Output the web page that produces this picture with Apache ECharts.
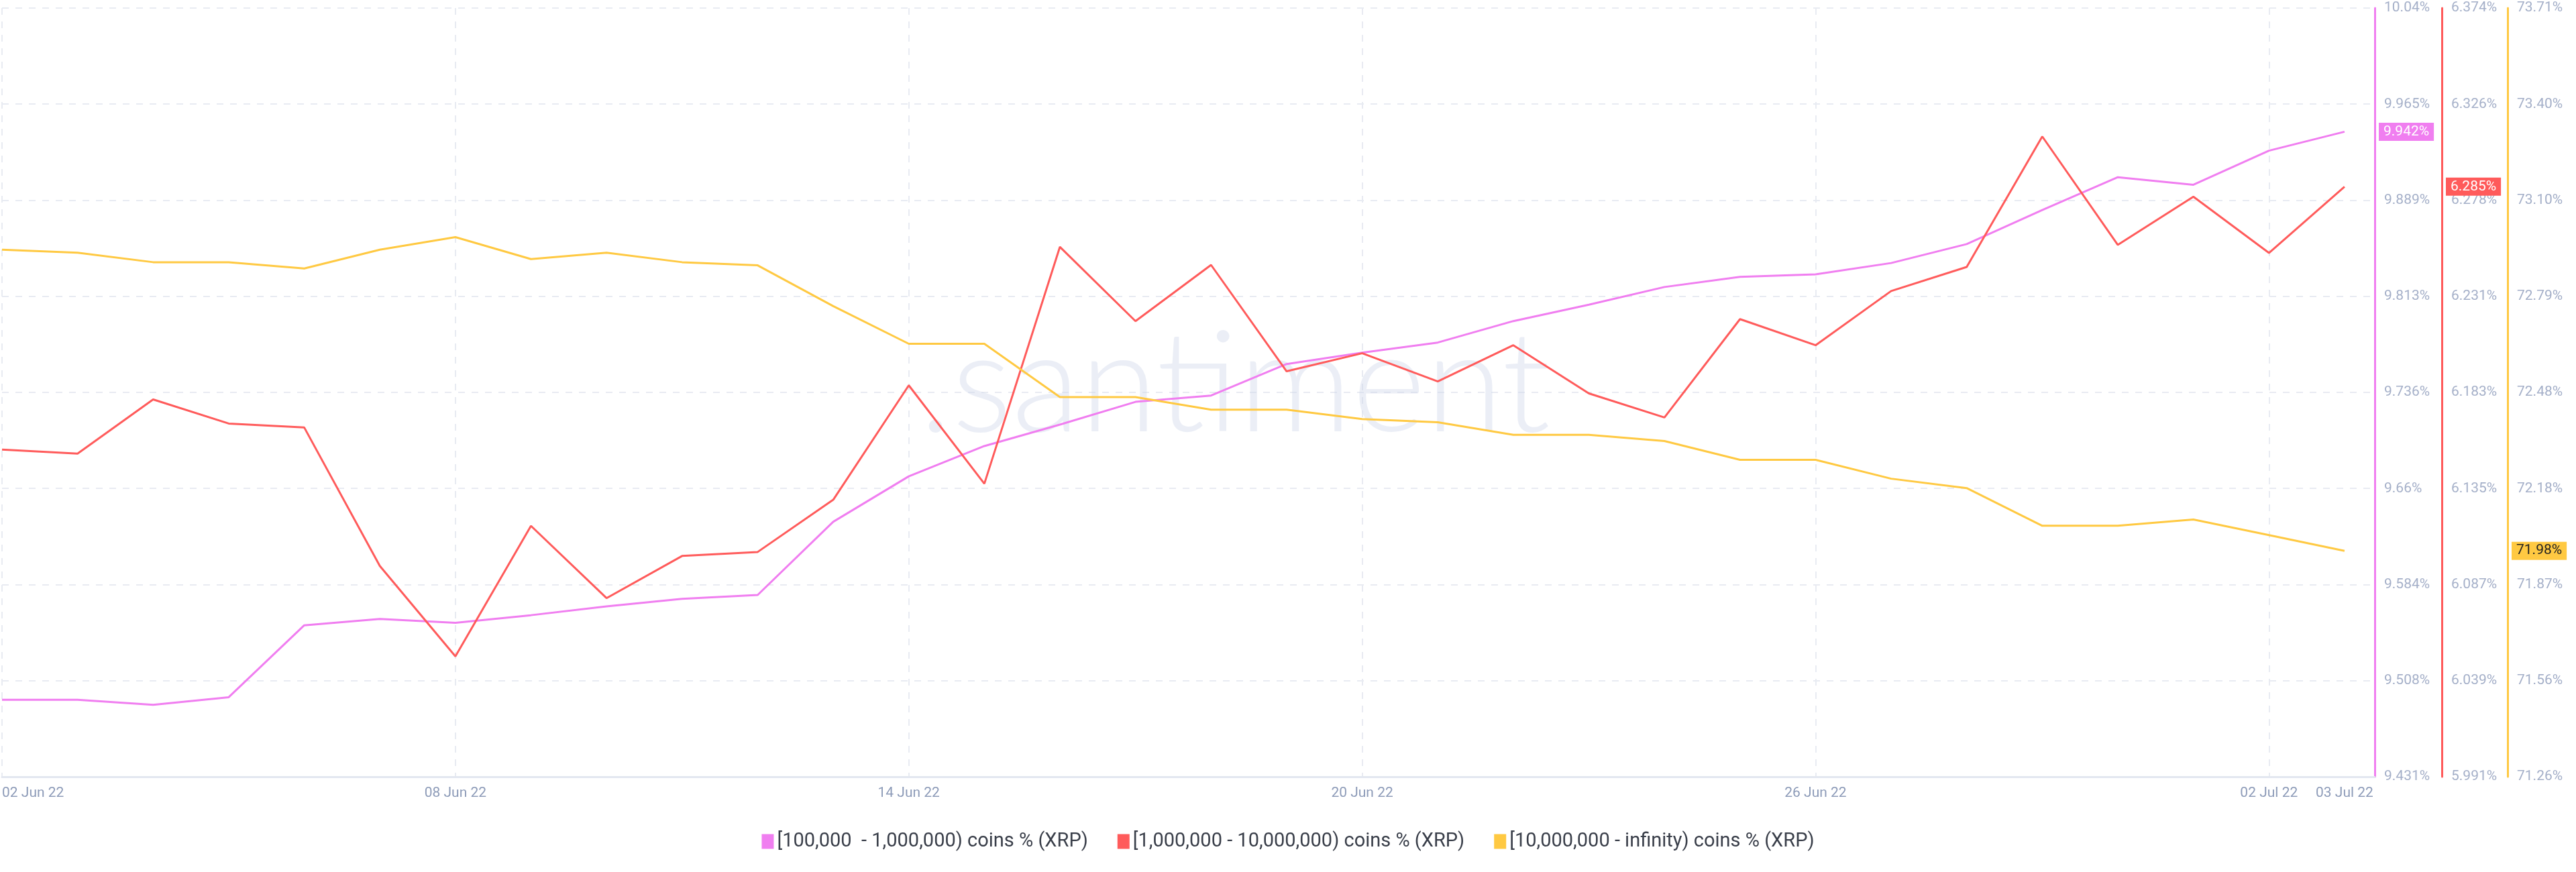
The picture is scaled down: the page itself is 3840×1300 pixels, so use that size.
<!DOCTYPE html>
<html>
<head>
<meta charset="utf-8">
<script src="https://cdn.jsdelivr.net/npm/echarts@6/dist/echarts.min.js"></script>
<style>html,body{margin:0;padding:0;background:#fff}#chart{width:3840px;height:1300px}</style>
</head>
<body>
<div id="chart"></div>
<script>
// day index 0 = 02 Jun 22
const dayLabels = ['02 Jun 22', '08 Jun 22', '14 Jun 22', '20 Jun 22', '26 Jun 22', '02 Jul 22', '03 Jul 22']
const dayLabelIdx = [0, 6, 12, 18, 24, 30, 31]

const pinkValues = [9.492, 9.492, 9.488, 9.494, 9.551, 9.556, 9.553, 9.559, 9.566, 9.572, 9.575, 9.633, 9.669, 9.693, 9.710, 9.728,
  9.733, 9.758, 9.767, 9.775, 9.792, 9.805, 9.819, 9.827, 9.829, 9.838, 9.853, 9.880, 9.906, 9.900, 9.927, 9.942]
const redValues = [6.154, 6.152, 6.179, 6.167, 6.165, 6.096, 6.051, 6.116, 6.080, 6.101, 6.103, 6.129, 6.186, 6.137, 6.255, 6.218,
  6.246, 6.193, 6.202, 6.188, 6.206, 6.182, 6.170, 6.219, 6.206, 6.233, 6.245, 6.310, 6.256, 6.280, 6.252, 6.285]
const yellowValues = [72.94, 72.93, 72.90, 72.90, 72.88, 72.94, 72.98, 72.91, 72.93, 72.90, 72.89, 72.76, 72.64, 72.64, 72.47, 72.47,
  72.43, 72.43, 72.40, 72.39, 72.35, 72.35, 72.33, 72.27, 72.27, 72.21, 72.18, 72.06, 72.06, 72.08, 72.03, 71.98]

const pinkTicks = ['9.431%', '9.508%', '9.584%', '9.66%', '9.736%', '9.813%', '9.889%', '9.965%', '10.04%']
const redTicks = ['5.991%', '6.039%', '6.087%', '6.135%', '6.183%', '6.231%', '6.278%', '6.326%', '6.374%']
const yellowTicks = ['71.26%', '71.56%', '71.87%', '72.18%', '72.48%', '72.79%', '73.10%', '73.40%', '73.71%']
const lastLabels = ['9.942%', '6.285%', '71.98%']

const names = ['[100,000  - 1,000,000) coins % (XRP)', '[1,000,000 - 10,000,000) coins % (XRP)', '[10,000,000 - infinity) coins % (XRP)']
const colors = ['#f07ef0', '#ff5b5b', '#ffc942']
const axisOffsets = [0, 100, 198]

function yAxis(min, max, ticks, color, offset) {
  const step = (max - min) / 8
  return {
    type: 'value', position: 'right', offset, min, max, interval: step,
    axisLine: { show: true, onZero: false, lineStyle: { color, width: 3 } },
    axisTick: { show: false },
    splitLine: { show: offset === 0, lineStyle: { color: '#e8ebf2', type: [10, 10], width: 2 } },
    axisLabel: {
      color: '#a4afc8', fontSize: 21, fontFamily: 'Roboto', margin: 14, verticalAlign: 'middle',
      formatter: v => ticks[Math.round((v - min) / step)] || ''
    }
  }
}

const seriesValues = [pinkValues, redValues, yellowValues]
const chart = echarts.init(document.getElementById('chart'))
chart.setOption({
  animation: false,
  grid: { left: 0, right: 300, top: 12, bottom: 142 },
  legend: {
    bottom: 26, left: 'center', itemWidth: 18, itemHeight: 22, itemGap: 44, icon: 'rect',
    textStyle: { fontSize: 29, color: '#3a3f4a', fontFamily: 'Roboto' }
  },
  xAxis: {
    type: 'value', min: 0, max: 31.4, interval: 6,
    axisLine: { lineStyle: { color: '#e3e7f0', width: 3 } },
    axisTick: { show: false },
    splitLine: { show: true, lineStyle: { color: '#e8ebf2', type: [10, 10], width: 2 } },
    axisLabel: {
      customValues: dayLabelIdx, color: '#8d9bb8', fontSize: 21, fontFamily: 'Roboto', margin: 14,
      formatter: v => dayLabels[dayLabelIdx.indexOf(Math.round(v))] || '',
      alignMinLabel: 'left'
    }
  },
  yAxis: [
    yAxis(9.431, 10.04, pinkTicks, colors[0], axisOffsets[0]),
    yAxis(5.991, 6.374, redTicks, colors[1], axisOffsets[1]),
    yAxis(71.26, 73.71, yellowTicks, colors[2], axisOffsets[2])
  ],
  series: seriesValues.map((vals, i) => ({
    name: names[i], type: 'line', yAxisIndex: i, showSymbol: false, symbol: 'none',
    lineStyle: { color: colors[i], width: 3 }, itemStyle: { color: colors[i] },
    data: vals.map((v, d) => [d, v])
  }))
})

// watermark + last value tags on the axes, placed through the chart's own scales
const axisX = chart.convertToPixel({ xAxisIndex: 0 }, 31.4)
const graphics = [{ type: 'text', left: 1370, top: 470, z: 0,
  style: { text: '.santiment', fill: 'rgba(205,212,232,0.4)', fontSize: 210, fontFamily: 'Lato', fontWeight: 300 } }]
seriesValues.forEach((vals, i) => {
  const y = chart.convertToPixel({ yAxisIndex: i }, vals[vals.length - 1])
  graphics.push({
    type: 'text', x: axisX + axisOffsets[i] + 6, y, z: 10,
    style: { text: lastLabels[i], fill: i === 2 ? '#222' : '#fff', backgroundColor: colors[i],
      padding: [3, 7], fontSize: 21, fontFamily: 'Roboto', verticalAlign: 'middle' }
  })
})
chart.setOption({ graphic: graphics })
</script>
</body>
</html>
